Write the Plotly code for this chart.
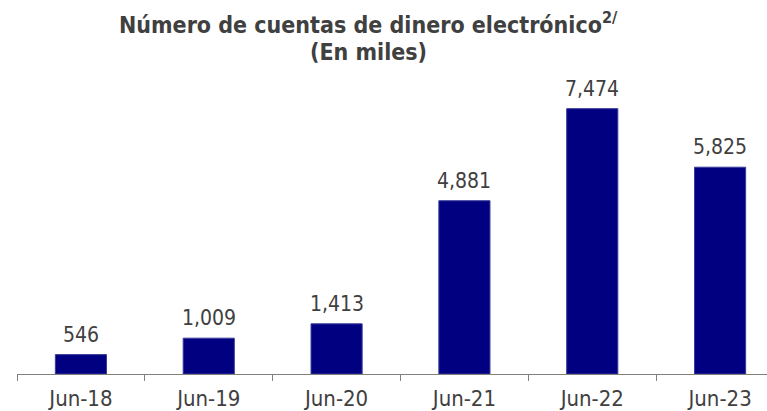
import plotly.graph_objects as go

categories = ["Jun-18", "Jun-19", "Jun-20", "Jun-21", "Jun-22", "Jun-23"]
values = [546, 1009, 1413, 4881, 7474, 5825]
labels = ["546", "1,009", "1,413", "4,881", "7,474", "5,825"]
title_lines = ["Número de cuentas de dinero electrónico<sup>2/</sup>", "(En miles)"]

FONT = "DejaVu Sans Condensed, DejaVu Sans, sans-serif"
TXT = "#404040"
W, H = 767, 411
ML, MR, MT, MB = 17, 0, 90, 37
PW, PH = W - ML - MR, H - MT - MB

def px_to_paper_x(px):
    return (px - ML) / PW

def px_to_paper_y(py):
    return (H - MB - py) / PH

fig = go.Figure()
fig.add_trace(go.Bar(
    x=categories, y=values, width=0.4,
    marker=dict(color="#000080", line=dict(color="#3a3a9a", width=1)),
    hoverinfo="skip",
))
for c, v, t in zip(categories, values, labels):
    fig.add_annotation(x=c, y=v, text=t, showarrow=False, yanchor="bottom",
                       yshift=6, font=dict(family=FONT, size=21, color=TXT))

for line, cy in zip(title_lines, [23, 52]):
    fig.add_annotation(xref="paper", yref="paper", x=px_to_paper_x(368), y=px_to_paper_y(cy),
                       xanchor="center", yanchor="middle", text=line, showarrow=False,
                       font=dict(family=FONT, size=23, color="#404040", weight="bold"))

fig.update_layout(
    width=W, height=H,
    margin=dict(l=ML, r=MR, t=MT, b=MB),
    paper_bgcolor="white", plot_bgcolor="white",
    showlegend=False,
    xaxis=dict(
        type="category", range=[-0.5, 5.367],
        showline=True, linecolor="#808080", linewidth=1,
        ticks="outside", tickson="boundaries", ticklen=6, tickcolor="#808080",
        showgrid=False, zeroline=False, ticklabelstandoff=5,
        tickfont=dict(family=FONT, size=22, color=TXT),
    ),
    yaxis=dict(range=[0, 8000], visible=False, showgrid=False, zeroline=False),
)

fig.write_html("out.html")
